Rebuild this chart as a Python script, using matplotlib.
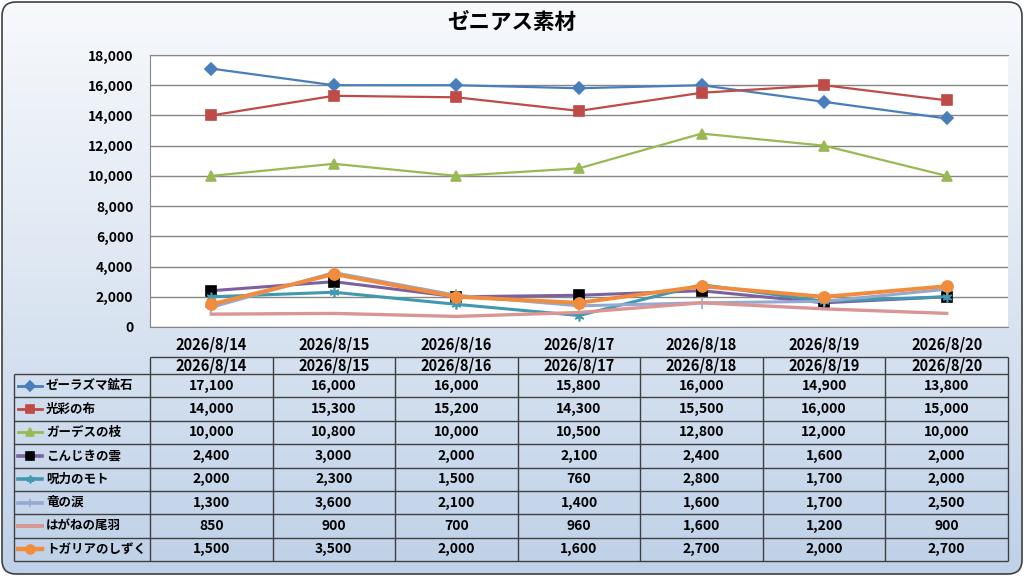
import matplotlib
matplotlib.use('Agg')
import matplotlib.pyplot as plt
import numpy as np
from matplotlib.patches import FancyBboxPatch
from matplotlib.colors import LinearSegmentedColormap

plt.rcParams['font.family'] = ['Noto Sans CJK JP', 'DejaVu Sans']

# --- data ---
dates = ['2026/8/14', '2026/8/15', '2026/8/16', '2026/8/17',
         '2026/8/18', '2026/8/19', '2026/8/20']
names = ['ゼーラズマ鉱石', '光彩の布', 'ガーデスの枝', 'こんじきの雲',
         '呪力のモト', '竜の涙', 'はがねの尾羽', 'トガリアのしずく']
zeerazuma = [17100, 16000, 16000, 15800, 16000, 14900, 13800]
kousai = [14000, 15300, 15200, 14300, 15500, 16000, 15000]
gaadesu = [10000, 10800, 10000, 10500, 12800, 12000, 10000]
konjiki = [2400, 3000, 2000, 2100, 2400, 1600, 2000]
juryoku = [2000, 2300, 1500, 760, 2800, 1700, 2000]
ryuu = [1300, 3600, 2100, 1400, 1600, 1700, 2500]
hagane = [850, 900, 700, 960, 1600, 1200, 900]
togaria = [1500, 3500, 2000, 1600, 2700, 2000, 2700]
values = [zeerazuma, kousai, gaadesu, konjiki, juryoku, ryuu, hagane, togaria]

# --- styles ---
colors = ['#4a7ebb', '#be4b48', '#98b954', '#7d60a0',
          '#4198af', '#93a9cf', '#d99694', '#f08c3c']
markers = ['D', 's', '^', 's', (6, 2, 0), '+', None, 'o']
mfc = ['#4a7ebb', '#be4b48', '#98b954', 'black',
       '#4198af', '#93a9cf', 'none', '#f08c3c']
msizes = [6, 7, 7, 7, 7, 8, 0, 8]
lws = [1.6, 1.6, 1.6, 2.2, 2.2, 2.2, 2.4, 2.8]

W, H = 1024, 576
fig = plt.figure(figsize=(10.24, 5.76), dpi=100, facecolor='white')

# background with rounded border
bg = fig.add_axes([0, 0, 1, 1])
bg.set_xlim(0, W)
bg.set_ylim(H, 0)
bg.axis('off')
grad = np.linspace(0, 1, 256).reshape(-1, 1)
cmap = LinearSegmentedColormap.from_list('bg', ['#f7f9fc', '#dce6f2', '#bfd1e8'])
im = bg.imshow(grad, cmap=cmap, extent=[0, W, H, 0], aspect='auto', zorder=0)
box = FancyBboxPatch((2, 2), W - 4, H - 4, boxstyle='round,pad=0,rounding_size=14',
                     fc='none', ec='#404040', lw=1.2, zorder=3)
bg.add_patch(box)
im.set_clip_path(box)

bg.text(W / 2, 22, 'ゼニアス素材', ha='center', va='center',
        fontsize=15.5, fontweight='bold', color='black')

# chart
ax = fig.add_axes([150 / W, 1 - 327 / H, 858 / W, 272 / H])
ax.set_facecolor('white')
x = np.arange(len(dates))
for i, vals in enumerate(values):
    ax.plot(x, vals, color=colors[i], lw=lws[i], marker=markers[i],
            markersize=msizes[i], markerfacecolor=mfc[i],
            markeredgecolor=mfc[i] if mfc[i] != 'none' else colors[i],
            markeredgewidth=1.2, zorder=3 + i, clip_on=False)
ax.set_xlim(-0.5, 6.5)
ax.set_ylim(0, 18000)
ax.set_yticks(range(0, 18001, 2000))
ax.set_yticklabels([f'{v:,}' for v in range(0, 18001, 2000)])
ax.set_xticks(x)
ax.set_xticklabels(dates)
ax.grid(axis='y', color='#868686', lw=1)
ax.set_axisbelow(True)
for s in ['left', 'bottom', 'top']:
    ax.spines[s].set_color('#868686')
ax.spines['right'].set_visible(False)
ax.tick_params(length=0, labelsize=10)
ax.tick_params(axis='y', pad=12)
ax.tick_params(axis='x', pad=7, labelsize=10.5)
for lab in ax.get_xticklabels() + ax.get_yticklabels():
    lab.set_fontweight('bold')

# data table
tx0, tx1, tx2 = 14, 150, 1008
cw = (tx2 - tx1) / len(dates)
hy0, hy1 = 357, 374
rh = (561 - hy1) / len(names)
lc = '#404040'
bg.hlines([hy0], tx1, tx2, color=lc, lw=1, zorder=4)
bg.hlines([hy1 + rh * k for k in range(len(names) + 1)], tx0, tx2, color=lc, lw=1, zorder=4)
bg.vlines([tx0], hy1, hy1 + rh * len(names), color=lc, lw=1, zorder=4)
bg.vlines([tx1 + cw * k for k in range(len(dates) + 1)], hy0, hy1 + rh * len(names),
          color=lc, lw=1, zorder=4)
for j, d in enumerate(dates):
    bg.text(tx1 + cw * (j + 0.5), (hy0 + hy1) / 2, d, ha='center', va='center',
            fontsize=10.5, fontweight='bold', zorder=5)
for i, name in enumerate(names):
    yc = hy1 + rh * (i + 0.5)
    bg.plot([18, 42], [yc, yc], color=colors[i], lw=lws[i] + 0.4, zorder=5)
    if markers[i] is not None:
        bg.plot([30], [yc], marker=markers[i], markersize=msizes[i] * 0.8,
                markerfacecolor=mfc[i], markeredgecolor=mfc[i],
                markeredgewidth=1.2, color=colors[i], zorder=6)
    bg.text(46, yc, name, ha='left', va='center', fontsize=9,
            fontweight='bold', zorder=5)
    for j, v in enumerate(values[i]):
        bg.text(tx1 + cw * (j + 0.5), yc, f'{v:,}', ha='center', va='center',
                fontsize=10, fontweight='bold', zorder=5)

fig.savefig('out.png', dpi=100)
